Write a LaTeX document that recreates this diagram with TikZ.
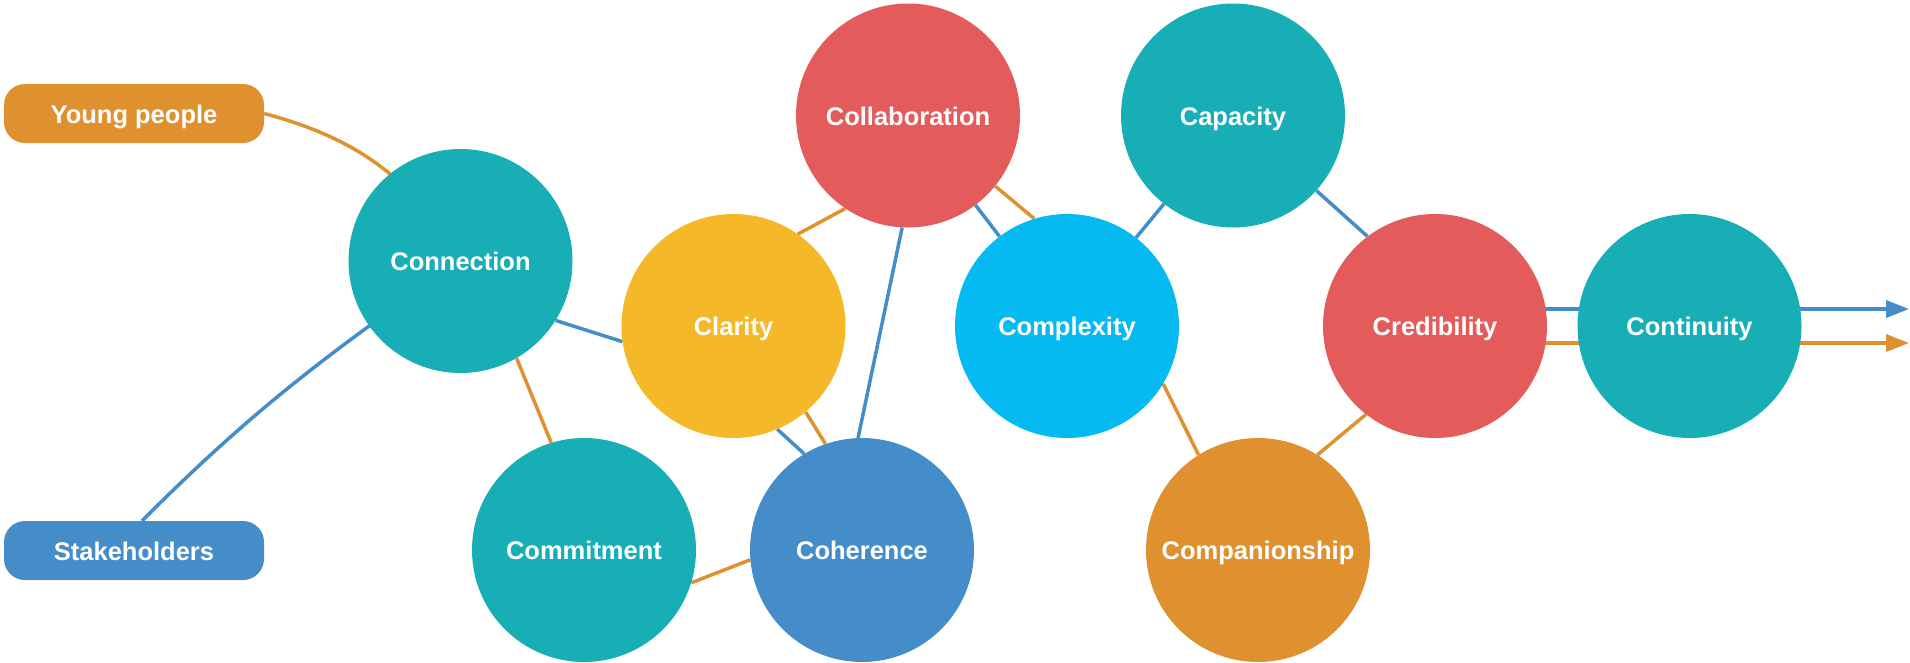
\documentclass[tikz,border=0pt]{standalone}
\usepackage{fontspec}
\setmainfont{Liberation Sans}
\usetikzlibrary{arrows.meta}
\pgfdeclarelayer{background}
\pgfsetlayers{background,main}

\definecolor{cteal}{HTML}{17AEB5}
\definecolor{cred}{HTML}{E35B5A}
\definecolor{cyellow}{HTML}{F5B828}
\definecolor{cblue}{HTML}{448DC9}
\definecolor{csky}{HTML}{04BAF0}
\definecolor{corange}{HTML}{E0912F}

\tikzset{
  label text/.style={text=white, text height=25.4pt, text depth=6pt,
    font=\fontsize{25.5pt}{30pt}\selectfont\bfseries},
  bubble/.style={circle, fill=#1, draw=none, inner sep=0pt, minimum size=224pt,
    label text},
  tag/.style={rectangle, rounded corners=21pt, fill=#1, draw=none, inner sep=0pt,
    minimum width=260pt, minimum height=59pt, label text},
  bline/.style={draw=cblue, line width=3.5pt},
  oline/.style={draw=corange, line width=3.5pt},
  tip/.style={-{Triangle[length=23pt,width=17pt]}}
}

\begin{document}
\begin{tikzpicture}[x=1pt, y=-1pt]
\useasboundingbox (0,0) rectangle (1910,662);

% source tags
\node[tag=corange] (yp) at (134,113.5) {Young people};
\node[tag=cblue]   (sh) at (134,550.5) {Stakeholders};

% bubbles
\node[bubble=cteal]   (conn)   at (460.5,261)  {Connection};
\node[bubble=cyellow] (clar)   at (733.5,326)  {Clarity};
\node[bubble=cred]    (collab) at (908,115.5)  {Collaboration};
\node[bubble=cteal]   (commit) at (584,550)    {Commitment};
\node[bubble=cblue]   (coher)  at (862,550)    {Coherence};
\node[bubble=csky]    (cplx)   at (1067,326)   {Complexity};
\node[bubble=cteal]   (cap)    at (1233,115.5) {Capacity};
\node[bubble=corange] (comp)   at (1258,550)   {Companionship};
\node[bubble=cred]    (credb)  at (1435,326)   {Credibility};
\node[bubble=cteal]   (cont)   at (1689.5,326) {Continuity};

\coordinate (bEnd) at (1909,309);
\coordinate (oEnd) at (1909,343);

\begin{pgfonlayer}{background}
  % links into the network
  \draw[oline] (yp.east) to[out=-15, in=120] (conn.center);
  \draw[bline] ([xshift=8pt]sh.north) to[out=45, in=215] (conn.center);

  % links between bubbles
  \draw[bline] (conn.-32)   -- (clar.188);
  \draw[oline] (conn.-60)   -- (commit.107);
  \draw[oline] (clar.55)    -- (collab.236);
  \draw[bline] (clar.-67)   -- (coher.121);
  \draw[oline] (clar.-50)   -- (coher.109);
  \draw[bline] (collab.-93) -- (coher.92);
  \draw[bline] (collab.-53) -- (cplx.127);
  \draw[oline] (collab.-39) -- (cplx.107);
  \draw[oline] (commit.-17) -- (coher.185);
  \draw[bline] (cplx.52)    -- (cap.-128);
  \draw[bline] (cap.-42)    -- (credb.127);
  \draw[oline] (cplx.-31)   -- (comp.122);
  \draw[oline] (comp.58)    -- (credb.-128);

  % outgoing arrows
  \draw[bline, tip] (credb.center |- bEnd) -- (bEnd);
  \draw[oline, tip] (credb.center |- oEnd) -- (oEnd);
\end{pgfonlayer}
\end{tikzpicture}
\end{document}
